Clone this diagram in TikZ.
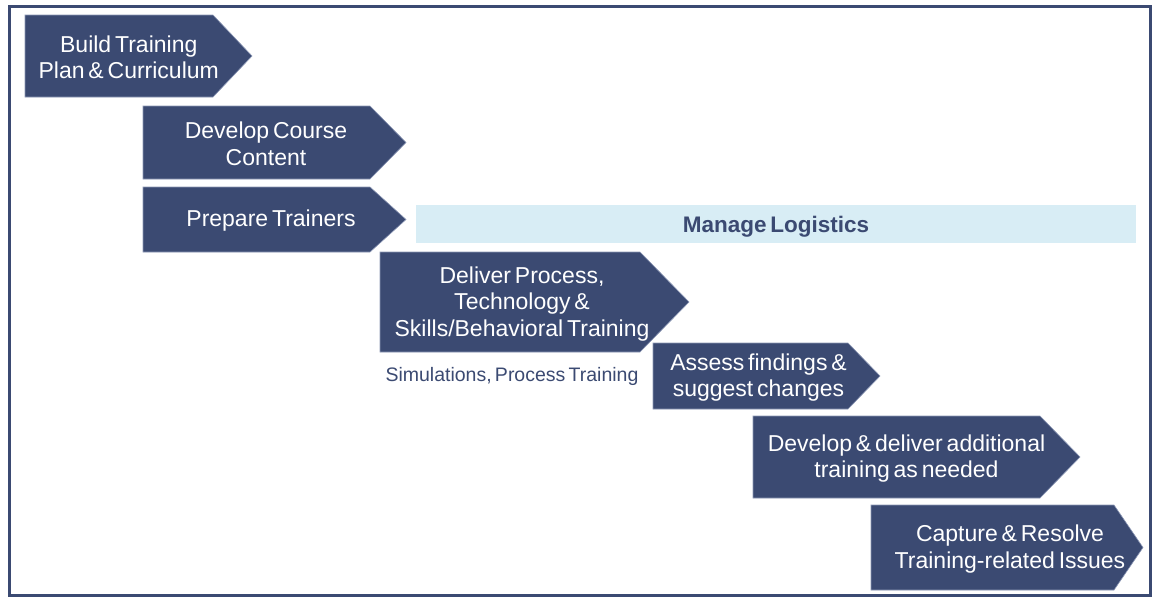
\documentclass[tikz,border=0pt]{standalone}
\usepackage{fontspec}
\setmainfont{Liberation Sans}[WordSpace=0.6]
\definecolor{navy}{HTML}{3B4A72}
\definecolor{lightbar}{HTML}{D8EDF5}
\definecolor{rim}{HTML}{8C97B5}
\tikzset{
  chevfill/.style={fill=navy, draw=rim, line width=0.6pt},
  chevtext/.style={text=white, align=center, font=\fontsize{23}{26.5}\selectfont, inner sep=0pt},
  subtext/.style={text=navy, font=\fontsize{19.5}{22}\selectfont, inner sep=0pt},
  bartext/.style={text=navy, font=\bfseries\fontsize{22.5}{24}\selectfont, inner sep=0pt},
  frameline/.style={draw=navy, line width=3pt}
}
% #1 left, #2 top, #3 rect end, #4 tip, #5 bottom
\newcommand\chevshape[5]{\path[chevfill] (#1,#2) -- (#3,#2) -- (#4,{(#2+#5)/2}) -- (#3,#5) -- (#1,#5) -- cycle;}
\begin{document}
\begin{tikzpicture}[x=1pt,y=-1pt]
\useasboundingbox (0,0) rectangle (1154,597);
\fill[white] (0,0) rectangle (1154,597);
% frame
\draw[frameline] (9,6.5) rectangle (1150.5,595.5);
% manage logistics bar
\fill[lightbar] (416,205) rectangle (1136,243);
\node[bartext] (logistics) at (776,226.5) {Manage Logistics};
% chevrons
\chevshape{25}{15}{213}{252}{97}
\node[chevtext] (build) at (128.75,57.5) {Build Training\\Plan \& Curriculum};
\chevshape{143}{106}{370}{406}{179}
\node[chevtext] (course) at (266,144) {Develop Course\\Content};
\chevshape{143}{187}{370}{406}{252}
\node[chevtext] (trainers) at (271,220.5) {Prepare Trainers};
\chevshape{380}{252}{640}{689}{352}
\node[chevtext] (deliver) at (522,304) {Deliver Process,\\Technology \&\\Skills/Behavioral Training};
\node[subtext] (sims) at (512,376) {Simulations, Process Training};
\chevshape{653}{343}{848}{880}{409}
\node[chevtext] (assess) at (758.5,377.5) {Assess findings \&\\suggest changes};
\chevshape{753}{416}{1040}{1080}{498}
\node[chevtext] (additional) at (906.5,458.5) {Develop \& deliver additional\\training as needed};
\chevshape{871}{505}{1114}{1143}{590}
\node[chevtext] (capture) at (1010,549) {Capture \& Resolve\\Training-related Issues};
\end{tikzpicture}
\end{document}
